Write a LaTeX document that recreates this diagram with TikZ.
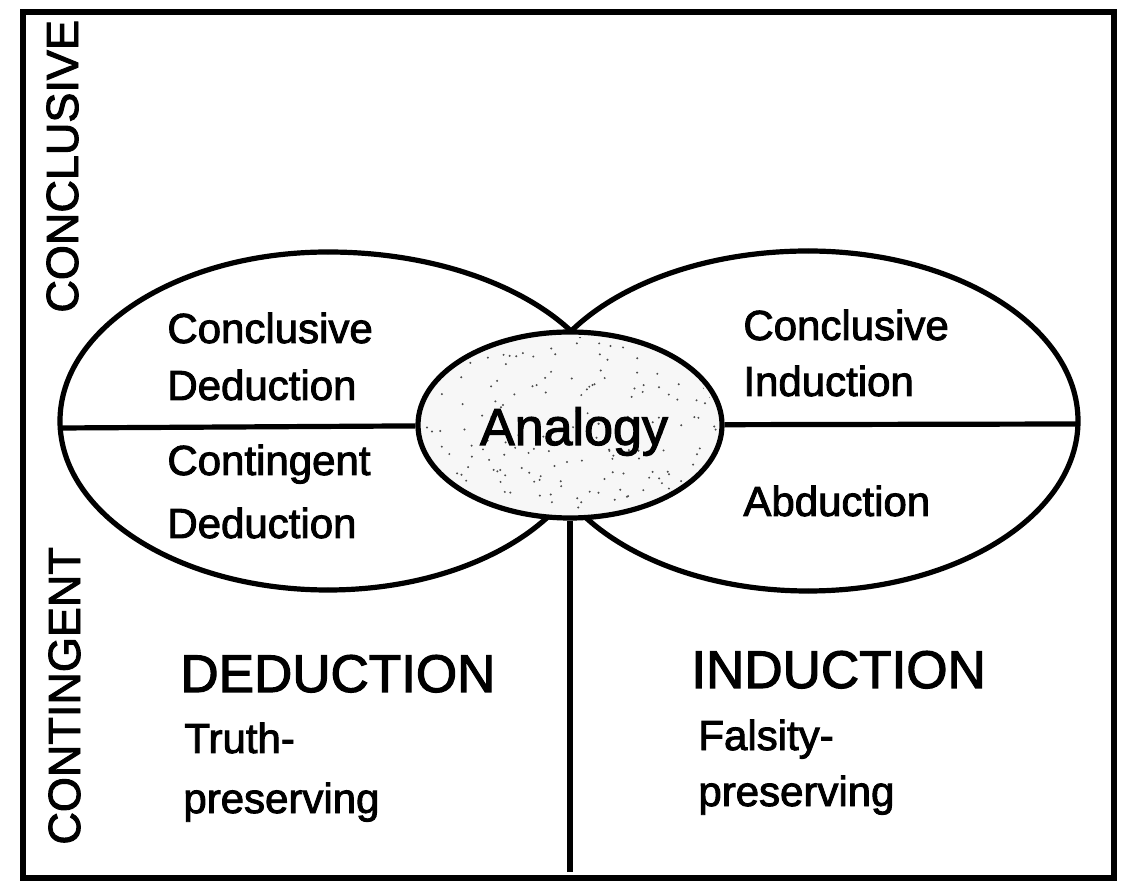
\documentclass[tikz,border=0pt]{standalone}
\usepackage{fontspec}
\newfontfamily\dfont{Liberation Sans}[FakeBold=2.2]
\usetikzlibrary{shapes.geometric}
\tikzset{
  lbl/.style={anchor=base west, inner sep=0pt, font=\dfont\fontsize{21}{25}\selectfont},
  bigl/.style={anchor=base west, inner sep=0pt, font=\dfont\fontsize{26.5}{30}\selectfont},
  side/.style={anchor=base west, inner sep=0pt, rotate=90, font=\dfont\fontsize{22.5}{27}\selectfont},
  oval/.style={line width=2.6pt},
  ln/.style={line width=2.6pt},
  frame/.style={line width=2.8pt},
  anbox/.style={ellipse, draw, line width=2.6pt, fill=black!3, minimum width=152pt, minimum height=93pt, inner sep=0pt},
  antext/.style={anchor=base, inner sep=0pt, font=\dfont\fontsize{26}{30}\selectfont},
}
\begin{document}
\begin{tikzpicture}[x=0.5pt, y=-0.5pt]
\useasboundingbox[fill=white] (0,0) rectangle (1124,886);
% frame
\draw[frame] (23,12) rectangle (1114,878);
% side labels
\node[side] (conc) at (78,313) {CONCLUSIVE};
\node[side] (cont) at (80,845) {CONTINGENT};
% left big ellipse (centre 328,421)
\draw[oval] (328,252) arc[start angle=270, end angle=90, x radius=268, y radius=169, delta angle=-180];
\draw[oval] (328,252) arc[start angle=270, end angle=360, x radius=287, y radius=169];
\draw[oval] (328,590) arc[start angle=90, end angle=0, x radius=267, y radius=169];
% right big ellipse (centre 808,421)
\draw[oval] (808,251) arc[start angle=-90, end angle=90, x radius=270, y radius=170];
\draw[oval] (808,251) arc[start angle=270, end angle=180, x radius=279, y radius=170];
\draw[oval] (808,591) arc[start angle=90, end angle=180, x radius=270, y radius=170];
% analogy
\node[anbox] (an) at (570,425) {};
\begin{scope}
  \clip (570,425) ellipse[x radius=147, y radius=88];
  \pgfmathsetseed{11}
  \foreach \i in {1,...,200}{
    \fill[black!70] ({570+150*rand},{425+92*rand}) circle[radius=0.55pt];
  }
\end{scope}
\node[antext] (antx) at (574,445) {Analogy};
% lines
\coordinate (lw) at (60,428);
\coordinate (re) at (1078,424);
\coordinate (vb) at (570,872);
\draw[ln] (lw) -- (an);
\draw[ln] (an) -- (re);
\draw[ln] (an) -- (vb);
% texts in left ellipse
\node[lbl] (cd1) at (167,343) {Conclusive};
\node[lbl] (cd2) at (167,400) {Deduction};
\node[lbl] (gd1) at (167,475) {Contingent};
\node[lbl] (gd2) at (167,538) {Deduction};
% texts in right ellipse
\node[lbl] (ci1) at (743,340) {Conclusive};
\node[lbl] (ci2) at (743,396) {Induction};
\node[lbl] (ab) at (743,516) {Abduction};
% lower quadrants
\node[bigl] (ded) at (180,692) {DEDUCTION};
\node[lbl] (tr1) at (184,753) {Truth-};
\node[lbl] (tr2) at (183,813) {preserving};
\node[bigl] (ind) at (691,688) {INDUCTION};
\node[lbl] (fa1) at (698,750) {Falsity-};
\node[lbl] (fa2) at (698,806) {preserving};
\end{tikzpicture}
\end{document}
